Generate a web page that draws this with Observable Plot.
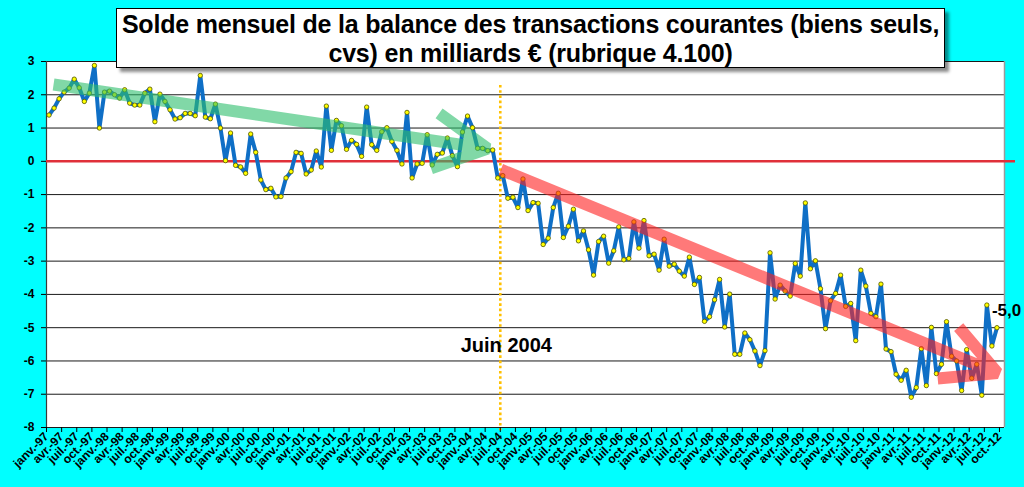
<!DOCTYPE html>
<html>
<head>
<meta charset="utf-8">
<script src="https://cdn.jsdelivr.net/npm/d3@7"></script>
<script src="https://cdn.jsdelivr.net/npm/@observablehq/plot@0.6"></script>
<style>
  html, body { margin: 0; padding: 0; background: #00FFFF; }
  #wrap { position: relative; width: 1024px; height: 487px; overflow: hidden; background: #00FFFF; }
  #title {
    position: absolute; left: 116px; top: 8px; width: 827px; height: 57px;
    background: #fff; border: 1px solid #000; box-shadow: 4px 4px 3px rgba(0,0,0,0.45);
    font-family: "Liberation Sans", Arial, sans-serif; font-weight: bold; font-size: 25px;
    letter-spacing: -0.2px; line-height: 29px; text-align: center; color: #000;
    padding-top: 1px; box-sizing: content-box; white-space: nowrap;
  }
</style>
</head>
<body>
<div id="wrap">
  <div id="chart"></div>
  <div id="title">Solde mensuel de la balance des transactions courantes (biens seuls,<br>cvs) en milliards € (rubrique 4.100)</div>
</div>
<script>
// ---- Data ----
const startYear = 1997;            // first month: janv.-97
const monthsOnAxis = 190;          // janv.-97 … oct.-12
const moisCourts = ["janv.", "févr.", "mars", "avr.", "mai", "juin", "juil.", "août", "sept.", "oct.", "nov.", "déc."];
const tickStep = 3;                // one label every 3 months
const yTicks = [-8, -7, -6, -5, -4, -3, -2, -1, 0, 1, 2, 3];

// monthly balance, billions € (janv.-97 … sept.-12)
const solde = [
  1.39, 1.60, 1.88, 2.08, 2.20, 2.47, 2.21, 1.80, 2.05, 2.88, 1.00, 2.08,
  2.11, 2.00, 1.90, 2.15, 1.75, 1.69, 1.69, 2.05, 2.17, 1.19, 2.02, 1.80,
  1.55, 1.27, 1.31, 1.44, 1.44, 1.37, 2.58, 1.33, 1.28, 1.72, 1.00, 0.02,
  0.85, -0.12, -0.17, -0.36, 0.82, 0.27, -0.56, -0.85, -0.81, -1.07, -1.06, -0.50,
  -0.31, 0.27, 0.24, -0.38, -0.26, 0.31, -0.17, 1.66, 0.33, 1.23, 1.07, 0.36,
  0.63, 0.51, 0.15, 1.63, 0.50, 0.33, 0.89, 1.01, 0.60, 0.33, -0.08, 1.47,
  -0.50, -0.08, -0.06, 0.80, -0.11, 0.21, 0.25, 0.70, 0.17, -0.16, 0.88, 1.36,
  1.01, 0.39, 0.39, 0.32, 0.34, -0.50, -0.43, -1.11, -1.08, -1.39, -0.53, -1.48,
  -1.24, -1.26, -2.50, -2.31, -1.39, -0.96, -2.29, -1.95, -1.44, -2.39, -2.09, -2.66,
  -3.42, -2.41, -2.25, -3.06, -2.69, -1.97, -2.96, -2.92, -1.82, -2.61, -1.78, -2.84,
  -2.79, -3.27, -2.34, -3.15, -3.09, -3.30, -3.45, -2.88, -3.70, -3.49, -4.81, -4.67,
  -4.16, -3.55, -4.98, -3.99, -5.80, -5.80, -5.16, -5.36, -5.70, -6.14, -5.69, -2.75,
  -4.14, -3.72, -3.90, -4.05, -3.07, -3.45, -1.25, -3.23, -2.99, -3.83, -5.03, -4.19,
  -3.97, -3.42, -4.36, -4.27, -5.39, -3.27, -3.75, -4.57, -4.67, -3.69, -5.64, -5.72,
  -6.40, -6.58, -6.28, -7.09, -6.80, -5.63, -6.74, -4.99, -6.38, -6.10, -4.82, -5.86,
  -6.00, -6.89, -5.66, -6.52, -6.10, -7.03, -4.32, -5.55, -5.00
];

// annotations (month index on the axis, value in billions €)
const tendances = [
  {nom: "1997-2004", m1: 1.4, v1: 2.31, m2: 87.5, v2: 0.38, couleur: "#2DBE6C"},
  {nom: "2004-2012", m1: 90.1, v1: -0.25, m2: 188.6, v2: -6.36, couleur: "#FF2020"}
];
const repere = {mois: 90, haut: 2.28, bas: -8.1, texte: "Juin 2004", yTexte: -5.55};

// ---- Build ----
const points = solde.map((v, i) => ({m: i + 0.5, v}));
const last = points[points.length - 1];
const tickLabel = i => `${moisCourts[i % 12]}-${String((startYear + Math.floor(i / 12)) % 100).padStart(2, "0")}`;
const fmt = v => d3.format(".1f")(v).replace(".", ",").replace("−", "-");

const chart = Plot.plot({
  width: 1024,
  height: 487,
  marginLeft: 46,
  marginRight: 20,
  marginTop: 61,
  marginBottom: 60,
  style: {background: "#00FFFF", fontFamily: "'Liberation Sans', Arial, sans-serif", color: "#000", overflow: "visible"},
  x: {type: "linear", domain: [0, monthsOnAxis]},
  y: {domain: [-8, 3]},
  marks: [
    Plot.frame({fill: "#fff", stroke: null}),
    Plot.ruleY(yTicks.filter(d => d !== 0), {stroke: "#1a1a1a", strokeWidth: 1}),
    Plot.ruleX([monthsOnAxis], {stroke: "#9a9a9a", strokeWidth: 1.5}),
    Plot.ruleX([0], {stroke: "#3a3a3a", strokeWidth: 1.2}),
    Plot.ruleY([0], {stroke: "#E0303A", strokeWidth: 2.5, insetRight: -11}),
    Plot.ruleX([repere.mois], {y1: repere.haut, y2: repere.bas, stroke: "#FFC000", strokeWidth: 2.6, strokeDasharray: "2.6 2.6"}),
    Plot.line(points, {x: "m", y: "v", stroke: "#0F6FC6", strokeWidth: 4, strokeLinejoin: "round"}),
    Plot.dot(points, {x: "m", y: "v", r: 2.2, fill: "#FFFF00", stroke: "#5a5a00", strokeWidth: 0.8}),
    Plot.arrow(tendances, {
      x1: "m1", y1: "v1", x2: "m2", y2: "v2", stroke: "couleur",
      strokeWidth: 12, strokeOpacity: 0.6, headLength: 7.5, headAngle: 55,
      strokeLinecap: "butt", strokeLinejoin: "miter"
    }),
    Plot.text([repere], {x: "mois", y: "yTexte", text: "texte", dx: 6, fontSize: 20, fontWeight: "bold", fill: "#000"}),
    Plot.text([last], {x: "m", y: "v", text: d => fmt(d.v), textAnchor: "start", dx: -5, dy: -17, fontSize: 17, fontWeight: "bold", fill: "#000"}),
    Plot.axisY({ticks: yTicks, tickFormat: d => String(d), tickSize: 5, tickPadding: 7, fontSize: 12, fontWeight: "bold", stroke: "#000"}),
    Plot.axisX({ticks: d3.range(0, monthsOnAxis, tickStep), tickFormat: tickLabel, tickRotate: -45, tickSize: 5, tickPadding: 2, fontSize: 12, fontWeight: "bold", stroke: "#000"})
  ]
});
document.getElementById("chart").appendChild(chart);
</script>
</body>
</html>
